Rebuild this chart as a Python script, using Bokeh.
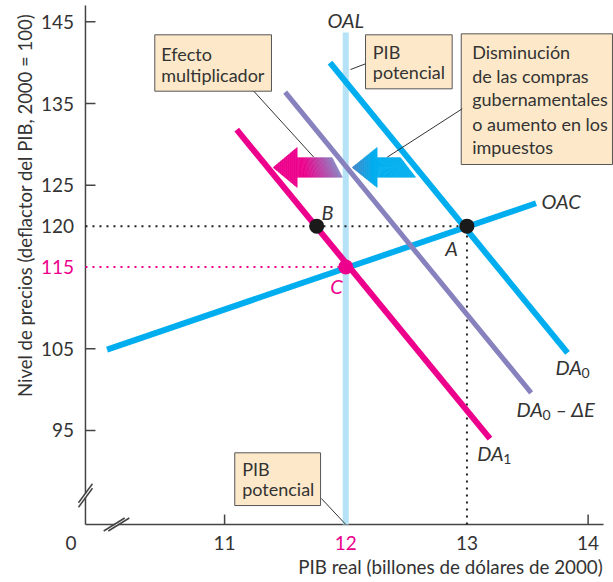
import math
from bokeh.plotting import figure
from bokeh.core.properties import value
from bokeh.embed import file_html
from bokeh.resources import INLINE

# ---------------- data ----------------
oac_x = [10.03, 13.57]
oac_y = [104.9, 122.8]
da0_x = [11.87, 13.83]
da0_y = [140.0, 104.5]
da0_de_x = [11.50, 13.53]
da0_de_y = [136.4, 99.6]
da1_x = [11.10, 13.19]
da1_y = [131.8, 94.0]
oal_x = 12.0
oal_top = 143.7
pt_x = [13.0, 11.76, 12.0]
pt_y = [120.0, 120.0, 115.0]
pt_names = ["A", "B", "C"]
price_A = 120
price_C = 115
gdp_A = 13
gdp_pot = 12
y_tick_marks = [95, 105, 125, 135, 145]
y_tick_labels = [95, 105, 115, 120, 125, 135, 145]
x_tick_marks = [11, 14]
x_tick_labels = [11, 12, 13, 14]

# ---------------- styling ----------------
FONT = value("Lato")
TXT = "#333333"
AXC = "#444444"
CYAN = "#00aeef"
MAGENTA = "#ec008c"
PURPLE = "#8781bd"
LIGHTBLUE = "#b5e2f7"
BOXFILL = "#fde9c9"

# whole canvas is the plotting frame; axes are drawn by hand
XR = (9.1508, 14.2094)
YR = (76.404, 147.606)
W, H = 613, 582
PXX = W / (XR[1] - XR[0])   # pixels per x unit
PXY = H / (YR[1] - YR[0])   # pixels per y unit
AX_X = 9.852      # position of the vertical axis
AX_Y = 83.50      # position of the horizontal axis
AX_X_END = 14.127
AX_Y_END = 147.0

p = figure(width=W, height=H, x_range=XR, y_range=YR,
           output_backend="svg", toolbar_location=None,
           x_axis_location=None, y_axis_location=None,
           min_border=0, min_border_left=0, min_border_right=0,
           min_border_top=0, min_border_bottom=0)
p.outline_line_color = None
p.grid.visible = False
p.background_fill_color = "white"
p.border_fill_color = "white"

# axes lines
p.segment(x0=[AX_X, AX_X], y0=[AX_Y, AX_Y], x1=[AX_X, AX_X_END], y1=[AX_Y_END, AX_Y],
          line_color=AXC, line_width=1.5)
# inward tick marks
p.segment(x0=[AX_X] * len(y_tick_marks), y0=y_tick_marks,
          x1=[AX_X + 10 / PXX] * len(y_tick_marks), y1=y_tick_marks,
          line_color=AXC, line_width=1.5)
p.segment(x0=x_tick_marks, y0=[AX_Y] * len(x_tick_marks),
          x1=x_tick_marks, y1=[AX_Y + 10 / PXY] * len(x_tick_marks),
          line_color=AXC, line_width=1.5)

# tick labels
p.text([AX_X - 11.5 / PXX] * len(y_tick_labels), y_tick_labels,
       text=[str(v) for v in y_tick_labels],
       text_color=[MAGENTA if v == price_C else TXT for v in y_tick_labels],
       text_font=FONT, text_font_size="19px", text_align="right", text_baseline="middle")
p.text(x_tick_labels, [AX_Y - 18.5 / PXY] * len(x_tick_labels),
       text=[str(v) for v in x_tick_labels],
       text_color=[MAGENTA if v == gdp_pot else TXT for v in x_tick_labels],
       text_font=FONT, text_font_size="19px", text_align="center", text_baseline="middle")
p.text([AX_X - 14.5 / PXX], [AX_Y - 19 / PXY], text=["0"], text_color=TXT,
       text_font=FONT, text_font_size="19px", text_align="center", text_baseline="middle")

# axis titles
p.text([12.864], [78.36], text=["PIB real (billones de dólares de 2000)"],
       text_color=TXT, text_font=FONT, text_font_size="18.8px",
       text_align="center", text_baseline="middle")
p.text([9.3489], [122.53], text=["Nivel de precios (deflactor del PIB, 2000 = 100)"],
       angle=math.pi / 2, text_color=TXT, text_font=FONT, text_font_size="18.5px",
       text_align="center", text_baseline="middle")

# axis break marks
ybc = 87.05
p.segment(x0=[AX_X - 0.5 / PXX], y0=[ybc - 1.5 / PXY], x1=[AX_X - 0.5 / PXX],
          y1=[ybc + 1.5 / PXY], line_color="white", line_width=4)
for d in (2.3, -2.3):
    c = ybc + d / PXY
    p.segment(x0=[AX_X - 7 / PXX], y0=[c - 9.5 / PXY], x1=[AX_X + 7 / PXX],
              y1=[c + 9.5 / PXY], line_color=AXC, line_width=1.5)
xbc = 10.108
p.segment(x0=[xbc - 1.5 / PXX], y0=[AX_Y], x1=[xbc + 1.5 / PXX], y1=[AX_Y],
          line_color="white", line_width=4)
for d in (-2.3, 2.3):
    c = xbc + d / PXX
    p.segment(x0=[c - 10.5 / PXX], y0=[AX_Y - 6.5 / PXY], x1=[c + 10.5 / PXX],
              y1=[AX_Y + 6.5 / PXY], line_color=AXC, line_width=1.5)

# potential GDP line
p.segment(x0=[oal_x], y0=[AX_Y], x1=[oal_x], y1=[oal_top], line_color=LIGHTBLUE, line_width=6)

# dotted guides
p.segment(x0=[AX_X], y0=[price_A], x1=[gdp_A], y1=[price_A], line_color="#222222",
          line_width=2, line_dash="2 5")
p.segment(x0=[gdp_A], y0=[AX_Y], x1=[gdp_A], y1=[price_A], line_color="#222222",
          line_width=2, line_dash="2 5")
p.segment(x0=[AX_X], y0=[price_C], x1=[gdp_pot], y1=[price_C], line_color=MAGENTA,
          line_width=2, line_dash="2 5")

# curves
p.line(oac_x, oac_y, line_color=CYAN, line_width=6)
p.line(da0_x, da0_y, line_color=CYAN, line_width=6)
p.line(da0_de_x, da0_de_y, line_color=PURPLE, line_width=5)
p.line(da1_x, da1_y, line_color=MAGENTA, line_width=6)


# gradient arrows
def hex2rgb(h):
    h = h.lstrip("#")
    return tuple(int(h[i:i + 2], 16) for i in (0, 2, 4))


def mix(c1, c2, t):
    t = max(0.0, min(1.0, t))
    a, b = hex2rgb(c1), hex2rgb(c2)
    return "#%02x%02x%02x" % tuple(int(round(a[i] + (b[i] - a[i]) * t)) for i in range(3))


def arrow_shape(tip, back, tail_top, tail_bot, yc, hh, bh, color_at, n_head=12, n_body=30):
    xs, ys, cs = [], [], []
    for i in range(n_head):
        a = tip + (back - tip) * i / n_head
        b = tip + (back - tip) * (i + 1) / n_head
        ha = hh * (a - tip) / (back - tip)
        hb = hh * (b - tip) / (back - tip)
        xs.append([a, b, b, a])
        ys.append([yc + ha, yc + hb, yc - hb, yc - ha])
        cs.append(color_at((a + b) / 2))
    for i in range(n_body):
        t0, t1 = i / n_body, (i + 1) / n_body
        xt0 = back + (tail_top - back) * t0
        xt1 = back + (tail_top - back) * t1
        xb0 = back + (tail_bot - back) * t0
        xb1 = back + (tail_bot - back) * t1
        xs.append([xt0, xt1, xb1, xb0])
        ys.append([yc + bh, yc + bh, yc - bh, yc - bh])
        cs.append(color_at((xt0 + xt1 + xb0 + xb1) / 4))
    return xs, ys, cs


YC = 127.18
HH = 20 / PXY
BH = 9.7 / PXY
pk = arrow_shape(11.401, 11.599, 11.888, 11.971, YC, HH, BH,
                 lambda x: mix(MAGENTA, "#8a80c0", (x - 11.66) / (11.93 - 11.66)))
bl = arrow_shape(12.053, 12.259, 12.452, 12.576, YC, HH, BH,
                 lambda x: mix("#4486c6", CYAN, (x - 12.053) / (12.23 - 12.053)))
for xs, ys, cs in (pk, bl):
    p.patches(xs, ys, fill_color=cs, line_color=cs, line_width=0.6)

# points
p.scatter(pt_x, pt_y, size=15, fill_color=["#1a1a1a", "#1a1a1a", MAGENTA],
          line_color=None)

# callout boxes
box_l = [10.424, 12.163, 12.953, 11.084]
box_r = [11.387, 12.878, 14.201, 11.792]
box_t = [143.41, 143.41, 143.53, 92.27]
box_b = [136.51, 136.80, 127.54, 85.82]
p.quad(left=box_l, right=box_r, top=box_t, bottom=box_b, fill_color=BOXFILL,
       line_color="#555555", line_width=1)
# leader lines
p.segment(x0=[11.241, 12.163, 12.961, 11.799], y0=[136.51, 139.86, 134.36, 86.68],
          x1=[11.736, 12.039, 12.342, 12.0], y1=[128.44, 139.16, 128.44, AX_Y],
          line_color="#333333", line_width=1)

box_text_x = [10.477, 10.477, 12.223, 12.223, 13.043, 13.043, 13.043, 13.043, 13.043,
              11.145, 11.145]
box_text_y = [141.09, 138.55, 141.28, 138.83, 141.28, 138.43, 135.58, 132.52, 129.65,
              90.31, 87.87]
box_text = ["Efecto", "multiplicador", "PIB", "potencial", "Disminución",
            "de las compras", "gubernamentales", "o aumento en los", "impuestos",
            "PIB", "potencial"]
p.text(box_text_x, box_text_y, text=box_text, text_font=FONT, text_font_size="18px",
       text_color=TXT, text_baseline="middle", text_align="left")

# curve / point labels
it = dict(text_font=FONT, text_font_size="20px", text_font_style="italic",
          text_baseline="middle")
p.text([12.0], [145.16], text=["OAL"], text_align="center", text_color=TXT, **it)
p.text([13.615], [123.02], text=["OAC"], text_align="left", text_color=TXT, **it)
p.text([12.873, 11.849], [117.27, 121.67], text=pt_names[:2], text_align="center",
       text_color=TXT, **it)
p.text([11.923], [112.62], text=pt_names[2:], text_align="center", text_color=MAGENTA, **it)
p.text([13.731, 13.409, 13.085], [102.71, 97.69, 92.19], text=["DA", "DA", "DA"],
       text_align="left", text_color=TXT, **it)
p.text([13.731, 13.409, 13.085], [102.71, 97.69, 92.19], text=["0", "0", "1"],
       x_offset=26, y_offset=6, text_font=FONT, text_font_size="14px",
       text_baseline="middle", text_align="left", text_color=TXT)
p.text([13.409], [97.69], text=["– ΔE"], x_offset=39, text_align="left",
       text_color=TXT, **it)

open("out.html", "w").write(file_html(p, INLINE))
